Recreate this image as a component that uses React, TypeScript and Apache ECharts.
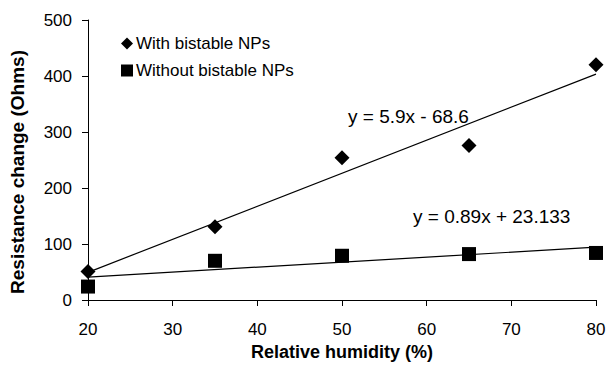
import React, { useEffect, useRef } from "react";
import * as echarts from "echarts";

const humidity = [20, 35, 50, 65, 80];
const withNPs = [51, 131, 254, 276, 420];
const withoutNPs = [24, 70, 79, 82, 84];
const fitWith = { slope: 5.9, intercept: -68.6, label: "y = 5.9x - 68.6" };
const fitWithout = { slope: 0.89, intercept: 23.133, label: "y = 0.89x + 23.133" };
const xTicks = { min: 20, max: 80, interval: 10 };
const yTicks = { min: 0, max: 500, interval: 100 };
const yTitle = "Resistance change (Ohms)";
const xTitle = "Relative humidity (%)";

const FONT = "Liberation Sans, Arial, sans-serif";

export default function App() {
  const ref = useRef<HTMLDivElement>(null);
  useEffect(() => {
    if (!ref.current) return;
    const chart = echarts.init(ref.current, undefined, { renderer: "svg" });
    const fitLine = (f: { slope: number; intercept: number }) =>
      [xTicks.min, xTicks.max].map((x) => [x, f.slope * x + f.intercept]);
    chart.setOption({
      animation: false,
      textStyle: { fontFamily: FONT },
      grid: { left: 88, right: 13, top: 20, bottom: 63 },
      legend: {
        orient: "vertical",
        left: 121,
        top: 35,
        padding: 0,
        itemGap: 10,
        itemWidth: 12,
        itemHeight: 12,
        textStyle: { fontFamily: FONT, fontSize: 17, color: "#000", padding: [0, 0, 0, -2] },
        data: [
          { name: "With bistable NPs", icon: "diamond" },
          { name: "Without bistable NPs", icon: "rect" },
        ],
      },
      xAxis: {
        type: "value",
        min: xTicks.min,
        max: xTicks.max,
        interval: xTicks.interval,
        name: xTitle,
        nameLocation: "middle",
        nameGap: 43,
        nameTextStyle: { fontFamily: FONT, fontSize: 18, fontWeight: "bold", color: "#000" },
        axisLine: { onZero: false, lineStyle: { color: "#000", width: 1 } },
        axisTick: { show: true, length: 6, lineStyle: { color: "#000" } },
        axisLabel: { fontFamily: FONT, fontSize: 17, color: "#000", margin: 21 },
        splitLine: { show: false },
      },
      yAxis: {
        type: "value",
        min: yTicks.min,
        max: yTicks.max,
        interval: yTicks.interval,
        axisLine: { show: true, lineStyle: { color: "#000", width: 1 } },
        axisTick: { show: true, length: 6, lineStyle: { color: "#000" } },
        axisLabel: { fontFamily: FONT, fontSize: 17, color: "#000", margin: 16 },
        splitLine: { show: false },
      },
      series: [
        {
          name: "fitWith",
          type: "line",
          data: fitLine(fitWith),
          symbol: "none",
          lineStyle: { color: "#000", width: 1.2 },
          silent: true,
          z: 1,
        },
        {
          name: "fitWithout",
          type: "line",
          data: fitLine(fitWithout),
          symbol: "none",
          lineStyle: { color: "#000", width: 1.2 },
          silent: true,
          z: 1,
        },
        {
          name: "With bistable NPs",
          type: "scatter",
          symbol: "diamond",
          symbolSize: [15, 15],
          itemStyle: { color: "#000", opacity: 1 },
          data: humidity.map((x, i) => [x, withNPs[i]]),
          z: 3,
        },
        {
          name: "Without bistable NPs",
          type: "scatter",
          symbol: "rect",
          symbolSize: 14,
          itemStyle: { color: "#000", opacity: 1 },
          data: humidity.map((x, i) => [x, withoutNPs[i]]),
          z: 3,
        },
      ],
      graphic: [
        {
          type: "text",
          x: 17,
          y: 172,
          rotation: Math.PI / 2,
          style: {
            text: yTitle,
            font: `bold 19px ${FONT}`,
            fill: "#000",
            align: "center",
            verticalAlign: "middle",
          },
        },
        {
          type: "text",
          left: 348,
          top: 107,
          style: { text: fitWith.label, font: `19px ${FONT}`, fill: "#000" },
        },
        {
          type: "text",
          left: 413,
          top: 207,
          style: { text: fitWithout.label, font: `19px ${FONT}`, fill: "#000" },
        },
      ],
    });
    return () => chart.dispose();
  }, []);
  return <div ref={ref} style={{ width: 609, height: 366, position: "absolute", left: 0, top: 0 }} />;
}
